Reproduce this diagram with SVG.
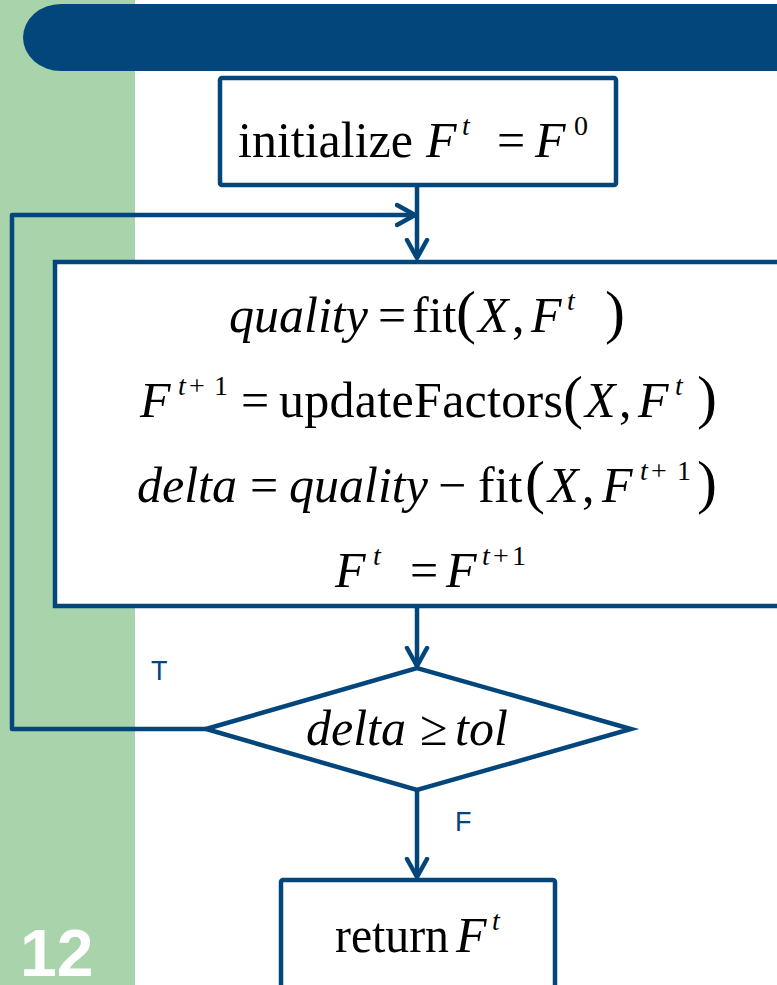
<svg xmlns="http://www.w3.org/2000/svg" width="777" height="985" viewBox="0 0 777 985">
<style>
.ln{fill:none;stroke:#03467B;stroke-width:4.5;stroke-linejoin:round}
.bx{fill:#fff;stroke:#03467B;stroke-width:4.5}
.m{font-family:"Liberation Serif","Times New Roman",serif;font-size:50px;fill:#000}
.i{font-style:italic}
.s{font-size:28px}
.p{font-size:60px}
.lb{font-family:"Liberation Sans",Arial,sans-serif;font-size:27px;fill:#03467B}
</style>
<defs>
<marker id="ah" markerUnits="userSpaceOnUse" markerWidth="30" markerHeight="30" refX="20" refY="15" orient="auto" viewBox="0 0 30 30">
<path d="M2,5 L20,15 L2,25" fill="none" stroke="#03467B" stroke-width="4.5" stroke-linecap="round" stroke-linejoin="round"/>
</marker>
</defs>
<rect x="0" y="0" width="777" height="985" fill="#fff"/>
<rect x="0" y="0" width="135" height="985" fill="#A9D4AB"/>
<path d="M777,4 H61 A38,33.5 0 0 0 61,71 H777 Z" fill="#03467B"/>
<text x="20" y="976" font-family="Liberation Sans,Arial,sans-serif" font-weight="bold" font-size="66" fill="#fff">12</text>

<g id="connectors">
<polyline class="ln" points="206,729 12,729 12,215 415,215" marker-end="url(#ah)"/>
<line class="ln" x1="417" y1="186" x2="417" y2="258" marker-end="url(#ah)"/>
<line class="ln" x1="417" y1="606" x2="417" y2="666" marker-end="url(#ah)"/>
<line class="ln" x1="417" y1="790" x2="417" y2="877" marker-end="url(#ah)"/>
<text class="lb" x="151" y="680">T</text>
<text class="lb" x="455" y="831">F</text>
</g>

<g id="init">
<rect class="bx" x="220" y="78" width="396" height="107" rx="2"/>
<text class="m" x="238" y="157">initialize</text>
<text class="m i" x="426" y="157">F</text>
<text class="m i s" x="462" y="135">t</text>
<text class="m" x="497" y="157">=</text>
<text class="m i" x="535" y="157">F</text>
<text class="m s" x="574" y="135">0</text>
</g>

<g id="loop">
<rect class="bx" x="55" y="262" width="760" height="344"/>
<!-- line 1 -->
<text class="m i" x="229" y="332">quality</text>
<text class="m" x="378" y="332">=</text>
<text class="m" x="412" y="332">fit</text>
<text class="m p" x="456" y="332">(</text>
<text class="m i" x="478" y="332">X</text>
<text class="m" x="512" y="332">,</text>
<text class="m i" x="531" y="332">F</text>
<text class="m i s" x="567" y="310">t</text>
<text class="m p" x="605" y="332">)</text>
<!-- line 2 -->
<text class="m i" x="140" y="417">F</text>
<text class="m i s" x="178" y="395">t</text>
<text class="m s" x="189" y="395">+</text>
<text class="m s" x="214" y="395">1</text>
<text class="m" x="241" y="417">=</text>
<text class="m" x="279" y="417" textLength="284" lengthAdjust="spacing">updateFactors</text>
<text class="m p" x="563" y="417">(</text>
<text class="m i" x="585" y="417">X</text>
<text class="m" x="619" y="417">,</text>
<text class="m i" x="638" y="417">F</text>
<text class="m i s" x="675" y="395">t</text>
<text class="m p" x="697" y="417">)</text>
<!-- line 3 -->
<text class="m i" x="137" y="502">delta</text>
<text class="m" x="250" y="502">=</text>
<text class="m i" x="289" y="502">quality</text>
<text class="m" x="438" y="502">−</text>
<text class="m" x="478" y="502">fit</text>
<text class="m p" x="525" y="502">(</text>
<text class="m i" x="548" y="502">X</text>
<text class="m" x="582" y="502">,</text>
<text class="m i" x="602" y="502">F</text>
<text class="m i s" x="640" y="480">t</text>
<text class="m s" x="651" y="480">+</text>
<text class="m s" x="677" y="480">1</text>
<text class="m p" x="697" y="502">)</text>
<!-- line 4 -->
<text class="m i" x="335" y="587">F</text>
<text class="m i s" x="373" y="565">t</text>
<text class="m" x="410" y="587">=</text>
<text class="m i" x="446" y="587">F</text>
<text class="m i s" x="482" y="565">t</text>
<text class="m s" x="493" y="565">+</text>
<text class="m s" x="512" y="565">1</text>
</g>

<g id="decision">
<polygon class="bx" points="206,729 417,668 631,729 417,790"/>
<text class="m i" x="306" y="745">delta</text>
<text class="m" x="420" y="745">≥</text>
<text class="m i" x="455" y="745">tol</text>
</g>

<g id="ret">
<rect class="bx" x="281" y="880" width="274" height="120" rx="2"/>
<text class="m" x="335" y="952" textLength="114" lengthAdjust="spacingAndGlyphs">return</text>
<text class="m i" x="456" y="952">F</text>
<text class="m i s" x="492" y="930">t</text>
</g>
</svg>
